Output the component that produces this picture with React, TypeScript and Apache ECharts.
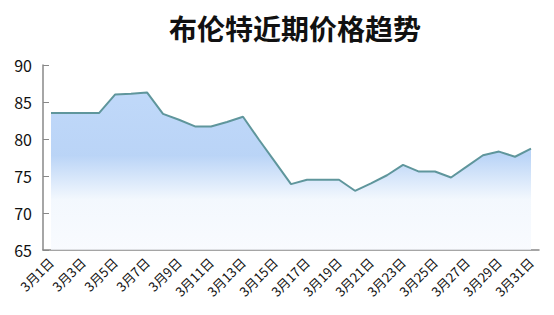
import React, { useEffect, useRef } from "react";
import * as echarts from "echarts";

const categories: string[] = Array.from({ length: 31 }, (_, i) => `3月${i + 1}日`);
const prices: number[] = [
  83.5, 83.5, 83.5, 83.5, 86.0, 86.1, 86.3, 83.4, 82.6, 81.7,
  81.7, 82.3, 83.0, 79.9, 76.9, 73.9, 74.5, 74.5, 74.5, 73.0,
  74.0, 75.1, 76.5, 75.6, 75.6, 74.8, 76.3, 77.8, 78.3, 77.6,
  78.7,
];
const yMin = 65;
const yMax = 90;
const yStep = 5;
const titleText = "布伦特近期价格趋势";

const FONT = '"Microsoft YaHei", "Noto Sans CJK SC", sans-serif';

export default function App() {
  const ref = useRef<HTMLDivElement>(null);
  useEffect(() => {
    if (!ref.current) return;
    const chart = echarts.init(ref.current, null, { renderer: "svg" });
    chart.setOption({
      animation: false,
      title: {
        text: titleText,
        left: 290,
        top: 9,
        textAlign: "center",
        textStyle: { fontSize: 28, fontWeight: "bold", color: "#111", fontFamily: FONT },
      },
      grid: { left: 43, right: 15, top: 65, bottom: 65 },
      xAxis: {
        type: "category",
        data: categories,
        boundaryGap: true,
        axisLine: { lineStyle: { color: "#888", width: 1.5 } },
        axisTick: { inside: true, length: 5, interval: 1, lineStyle: { color: "#888" } },
        axisLabel: {
          interval: 1,
          rotate: 45,
          fontSize: 13,
          color: "#111",
          fontFamily: FONT,
          margin: 10,
        },
      },
      yAxis: {
        type: "value",
        min: yMin,
        max: yMax,
        interval: yStep,
        splitLine: { show: false },
        axisLine: { show: true, lineStyle: { color: "#888", width: 1.5 } },
        axisTick: { show: true, inside: true, length: 6, lineStyle: { color: "#888" } },
        axisLabel: { fontSize: 16, color: "#111", fontFamily: FONT, margin: 11 },
      },
      series: [
        {
          type: "line",
          data: prices,
          symbol: "none",
          lineStyle: { color: "#5f969c", width: 2 },
          areaStyle: {
            color: new echarts.graphic.LinearGradient(0, 0, 0, 1, [
              { offset: 0, color: "#a5c8f7" },
              { offset: 0.4, color: "#9dc2f3" },
              { offset: 0.68, color: "#eef5fd" },
              { offset: 1, color: "#f6f9fe" },
            ]),
          },
        },
      ],
    });
    return () => chart.dispose();
  }, []);
  return (
    <div
      ref={ref}
      style={{ position: "absolute", left: 0, top: 0, width: 554, height: 315 }}
    />
  );
}
